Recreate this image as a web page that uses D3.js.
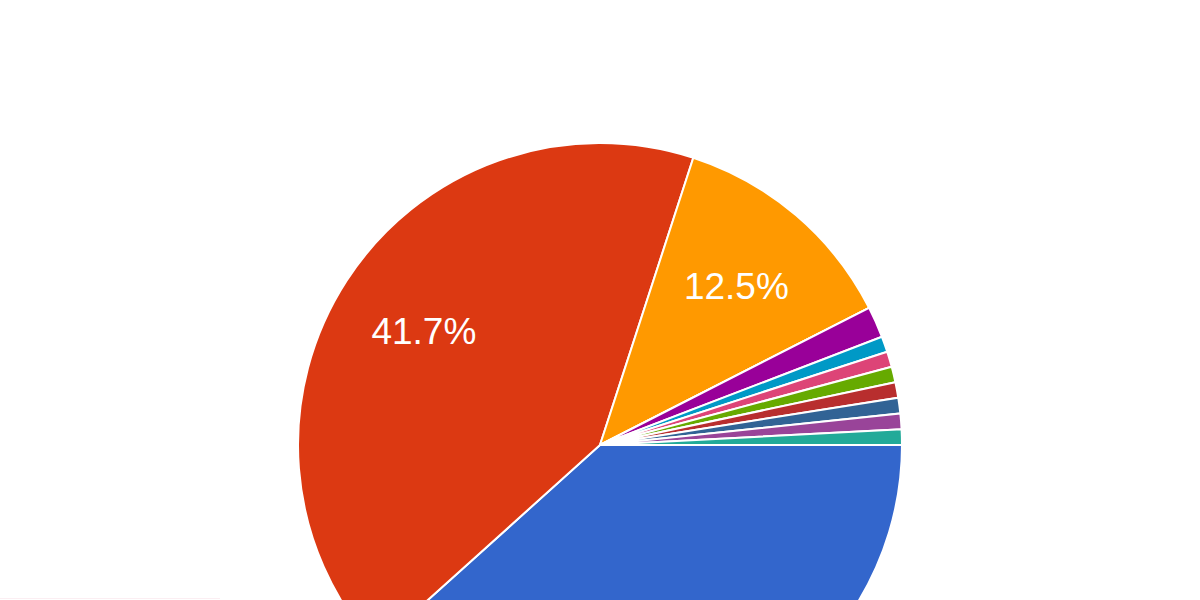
<!DOCTYPE html>
<html>
<head>
<meta charset="utf-8">
<script src="https://cdn.jsdelivr.net/npm/d3@7"></script>
<style>
    body { margin: 0; background: #fff; }
    #chart { width: 1200px; height: 600px; }
    .slice-label { font-family: "Liberation Sans", Arial, sans-serif; fill: #fff; }
</style>
</head>
<body>
<div id="chart"></div>
<script>
// slice values, in drawing order (clockwise from 3 o'clock)
let categories = ["A", "B", "C", "D", "E", "F", "G", "H", "I", "J", "K", "L"];
let values = [46, 50, 15, 0, 2, 1, 1, 1, 1, 1, 1, 1];
let colors = [
    "#3366cc", "#dc3912", "#ff9900", "#109618", "#990099", "#0099c6",
    "#dd4477", "#66aa00", "#b82e2e", "#316395", "#994499", "#22aa99"
];

let width = 1200, height = 600;
let cx = 600, cy = 445, radius = 302;

let svg = d3.select("#chart").append("svg")
    .attr("width", width)
    .attr("height", height);

let g = svg.append("g")
    .attr("transform", "translate(" + cx + "," + cy + ")");

let data = categories.map((c, i) => ({name: c, value: values[i], color: colors[i]}));
let total = d3.sum(values);

let pie = d3.pie()
    .sort(null)
    .value(d => d.value)
    .startAngle(Math.PI / 2)
    .endAngle(Math.PI / 2 + 2 * Math.PI);

let arc = d3.arc()
    .innerRadius(0)
    .outerRadius(radius);

// label sits about 2/3 of the way out
let labelArc = d3.arc()
    .innerRadius(210)
    .outerRadius(210);

let arcs = pie(data);

g.selectAll("path")
    .data(arcs)
    .enter().append("path")
    .attr("d", arc)
    .attr("fill", d => d.data.color)
    .attr("stroke", "#fff")
    .attr("stroke-width", 2);

// only red and orange get a label (blue's falls below the visible area)
g.selectAll("text")
    .data(arcs.filter(d => d.data.value / total >= 0.1 && d.data.name !== "A"))
    .enter().append("text")
    .attr("class", "slice-label")
    .attr("transform", d => "translate(" + labelArc.centroid(d) + ")")
    .attr("text-anchor", "middle")
    .attr("dy", "0.36em")
    .attr("font-size", 37)
    .text(d => (d.data.value / total * 100).toFixed(1) + "%");

// faint line along the bottom-left edge
svg.append("line")
    .attr("x1", 0).attr("x2", 220)
    .attr("y1", 598.5).attr("y2", 598.5)
    .attr("stroke", "#fbeef2")
    .attr("stroke-width", 1);
</script>
</body>
</html>
